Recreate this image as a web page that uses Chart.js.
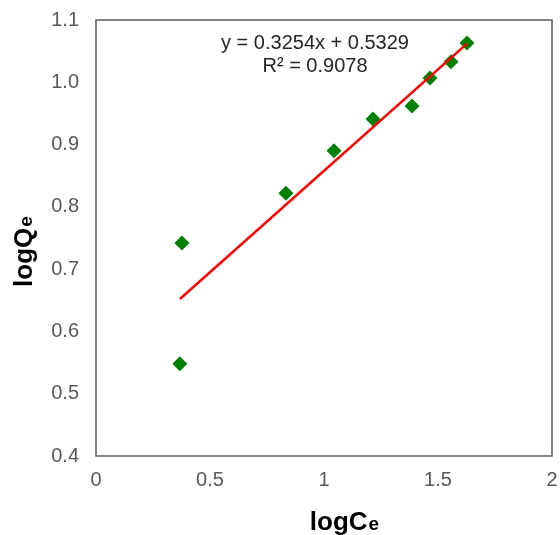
<!DOCTYPE html>
<html>
<head>
<meta charset="utf-8">
<script src="https://cdn.jsdelivr.net/npm/chart.js@4"></script>
<style>
  html, body { margin: 0; padding: 0; background: #fff; }
  #wrap { width: 560px; height: 535px; }
</style>
</head>
<body>
<div id="wrap"><canvas id="isoChart" width="560" height="535"></canvas></div>
<script>
// measured points (log Ce, log Qe)
const logCe = [0.368, 0.377, 0.833, 1.044, 1.215, 1.386, 1.465, 1.557, 1.627];
const logQe = [0.548, 0.742, 0.822, 0.890, 0.941, 0.962, 1.007, 1.033, 1.063];
// trendline ends as drawn
const trendX = [0.368, 1.627];
const trendY = [0.652, 1.062];
const xTicks = [0, 0.5, 1, 1.5, 2];
const yTicks = [0.4, 0.5, 0.6, 0.7, 0.8, 0.9, 1.0, 1.1];
const eqText = 'y = 0.3254x + 0.5329';
const r2Text = 'R\u00b2 = 0.9078';

const FONT = '"Liberation Sans", Arial, sans-serif';
const GREY = '#595959';

let points = logCe.map((x, i) => ({ x: x, y: logQe[i] }));
let trend = trendX.map((x, i) => ({ x: x, y: trendY[i] }));

// frame, equation and axis titles
const extras = {
  id: 'extras',
  afterDraw(chart) {
    let ctx = chart.ctx;
    let a = chart.chartArea;
    ctx.save();
    ctx.strokeStyle = GREY;
    ctx.lineWidth = 1.5;
    ctx.strokeRect(a.left, a.top, a.right - a.left, a.bottom - a.top);

    ctx.fillStyle = '#262626';
    ctx.font = '20px ' + FONT;
    ctx.textAlign = 'center';
    ctx.textBaseline = 'alphabetic';
    ctx.fillText(eqText, 315, 49);
    ctx.fillText(r2Text, 315, 72);

    // x title: logCe
    ctx.fillStyle = '#000';
    ctx.textAlign = 'left';
    let big = 'bold 26px ' + FONT;
    let small = 'bold 19px ' + FONT;
    ctx.font = big;
    let w1 = ctx.measureText('logC').width;
    ctx.font = small;
    let w2 = ctx.measureText('e').width;
    let sx = 344 - (w1 + w2) / 2;
    ctx.font = big;
    ctx.fillText('logC', sx, 530);
    ctx.font = small;
    ctx.fillText('e', sx + w1 + 1, 530);

    // y title: logQe
    ctx.translate(32, 252);
    ctx.rotate(-Math.PI / 2);
    ctx.font = big;
    w1 = ctx.measureText('logQ').width;
    ctx.font = small;
    w2 = ctx.measureText('e').width;
    sx = -(w1 + w2) / 2;
    ctx.font = big;
    ctx.fillText('logQ', sx, 0);
    ctx.font = small;
    ctx.fillText('e', sx + w1 + 1, 0);
    ctx.restore();
  },
};

let ctxC = document.getElementById('isoChart').getContext('2d');
let isoChart = new Chart(ctxC, {
  type: 'scatter',
  data: {
    datasets: [
      {
        label: 'Linear',
        data: trend,
        showLine: true,
        borderColor: '#ff0000',
        borderWidth: 2.5,
        pointRadius: 0,
        fill: false,
      },
      {
        label: 'logQe',
        data: points,
        pointStyle: 'rectRot',
        pointRadius: 7.5,
        pointHoverRadius: 7.5,
        backgroundColor: '#008000',
        borderColor: '#008000',
        borderWidth: 0,
      },
    ],
  },
  options: {
    responsive: false,
    animation: false,
    layout: { padding: { left: 0, right: 8, top: 20, bottom: 0 } },
    plugins: {
      legend: { display: false },
      tooltip: { enabled: false },
    },
    scales: {
      x: {
        type: 'linear',
        min: 0,
        max: 2,
        grid: { display: false, drawTicks: false },
        border: { display: false },
        afterBuildTicks: (s) => { s.ticks = xTicks.map((v) => ({ value: v })); },
        afterFit: (s) => {
          s.height = 79;
          s.paddingLeft = 0;
          s.paddingRight = 0;
        },
        ticks: {
          color: GREY,
          padding: 12,
          maxRotation: 0,
          font: { family: FONT, size: 20 },
          callback: (v) => String(v),
        },
      },
      y: {
        type: 'linear',
        min: 0.4,
        max: 1.1,
        grid: { display: false, drawTicks: false },
        border: { display: false },
        afterBuildTicks: (s) => { s.ticks = yTicks.map((v) => ({ value: v })); },
        afterFit: (s) => {
          s.width = 96;
          s.paddingTop = 0;
          s.paddingBottom = 0;
        },
        ticks: {
          color: GREY,
          padding: 17,
          font: { family: FONT, size: 20 },
          callback: (v) => v.toFixed(1),
        },
      },
    },
  },
  plugins: [extras],
});
</script>
</body>
</html>
